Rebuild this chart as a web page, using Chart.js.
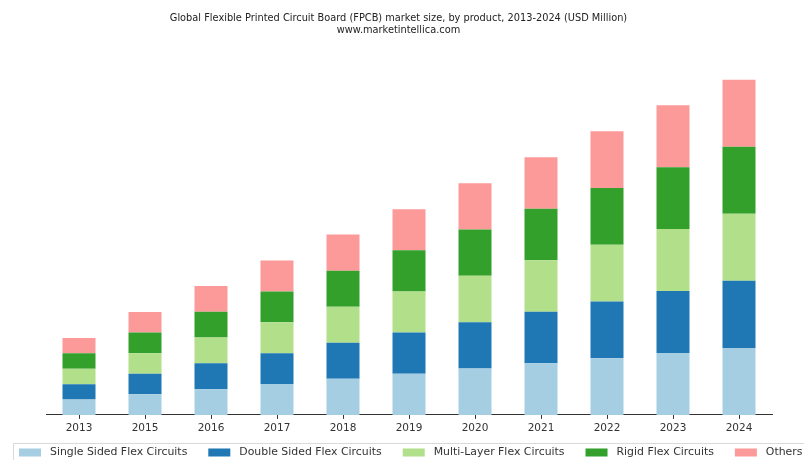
<!DOCTYPE html>
<html>
<head>
<meta charset="utf-8">
<script src="https://cdn.jsdelivr.net/npm/chart.js@4.4.1/dist/chart.umd.min.js"></script>
<style>
  html, body { margin: 0; padding: 0; background: #fff; }
  #wrap { width: 804px; height: 460px; }
</style>
</head>
<body>
<div id="wrap"><canvas id="chart" width="804" height="460"></canvas></div>
<script>
// years on the x axis (2014 is not in the source)
const years = ['2013', '2015', '2016', '2017', '2018', '2019', '2020', '2021', '2022', '2023', '2024'];

// segment values (no y axis in the source, relative units)
const singleSided = [15.4, 20.6, 25.8, 30.9, 36.1, 41.2, 46.4, 51.6, 56.8, 62.0, 67.1];
const doubleSided = [15.4, 20.6, 25.8, 30.9, 36.1, 41.2, 46.4, 51.6, 56.8, 62.0, 67.1];
const multiLayer  = [15.4, 20.6, 25.8, 30.9, 36.1, 41.2, 46.4, 51.6, 56.8, 62.0, 67.1];
const rigidFlex   = [15.4, 20.6, 25.8, 30.9, 36.1, 41.2, 46.4, 51.6, 56.8, 62.0, 67.1];
const others      = [15.4, 20.6, 25.8, 30.9, 36.1, 41.2, 46.4, 51.6, 56.8, 62.0, 67.1];

const seriesNames = ['Single Sided Flex Circuits', 'Double Sided Flex Circuits',
  'Multi-Layer Flex Circuits', 'Rigid Flex Circuits', 'Others'];
const seriesColors = ['#a6cee3', '#1f78b4', '#b2df8a', '#33a02c', '#fb9a99'];
const seriesData = [singleSided, doubleSided, multiLayer, rigidFlex, others];

const titleLines = [
  'Global Flexible Printed Circuit Board (FPCB) market size, by product, 2013-2024 (USD Million)',
  'www.marketintellica.com'
];

// white background + a framed one-row legend like the source (it runs off the right edge)
const frameLegend = {
  id: 'frameLegend',
  beforeDraw(chart) {
    const ctx = chart.ctx;
    ctx.save();
    ctx.fillStyle = '#fff';
    ctx.fillRect(0, 0, chart.width, chart.height);
    ctx.restore();
  },
  afterDraw(chart) {
    const ctx = chart.ctx;
    ctx.save();
    ctx.strokeStyle = '#d9d9d9';
    ctx.lineWidth = 1;
    ctx.strokeRect(13.5, 443.5, 800, 30);

    ctx.font = '10.9px "DejaVu Sans"';
    ctx.textBaseline = 'middle';
    ctx.textAlign = 'left';
    let x = 19;
    const midY = 452.5;
    chart.data.datasets.forEach(ds => {
      ctx.fillStyle = ds.backgroundColor;
      ctx.fillRect(x, midY - 4, 22, 8);
      ctx.fillStyle = '#333';
      ctx.fillText(ds.label, x + 31, midY);
      x += 31 + ctx.measureText(ds.label).width + 21;
    });
    ctx.restore();
  }
};

new Chart(document.getElementById('chart').getContext('2d'), {
  type: 'bar',
  data: {
    labels: years,
    datasets: seriesData.map((d, i) => ({
      label: seriesNames[i],
      data: d,
      backgroundColor: seriesColors[i],
      borderWidth: 0,
      barPercentage: 0.5,
      categoryPercentage: 1.0
    }))
  },
  options: {
    responsive: false,
    animation: false,
    layout: { padding: { left: 25, right: 32, top: 0, bottom: 22.5 } },
    scales: {
      x: {
        stacked: true,
        border: { display: true, color: '#333', width: 1 },
        grid: { display: true, drawOnChartArea: false, drawTicks: true, tickLength: 4, color: '#333', offset: false },
        ticks: { color: '#333', padding: 3, font: { family: 'DejaVu Sans', size: 10.5 } }
      },
      y: {
        stacked: true,
        display: true,
        min: 0,
        max: 358.8,
        grid: { display: false },
        border: { display: false },
        ticks: { display: false },
        afterFit(scale) { scale.width = 21; }
      }
    },
    plugins: {
      title: {
        display: true,
        text: titleLines,
        color: '#222',
        font: { family: 'DejaVu Sans', size: 9.8, weight: 'normal', lineHeight: 1.2 },
        padding: { top: 13, bottom: 20 }
      },
      legend: { display: false },
      tooltip: { enabled: false }
    }
  },
  plugins: [frameLegend]
});
</script>
</body>
</html>
